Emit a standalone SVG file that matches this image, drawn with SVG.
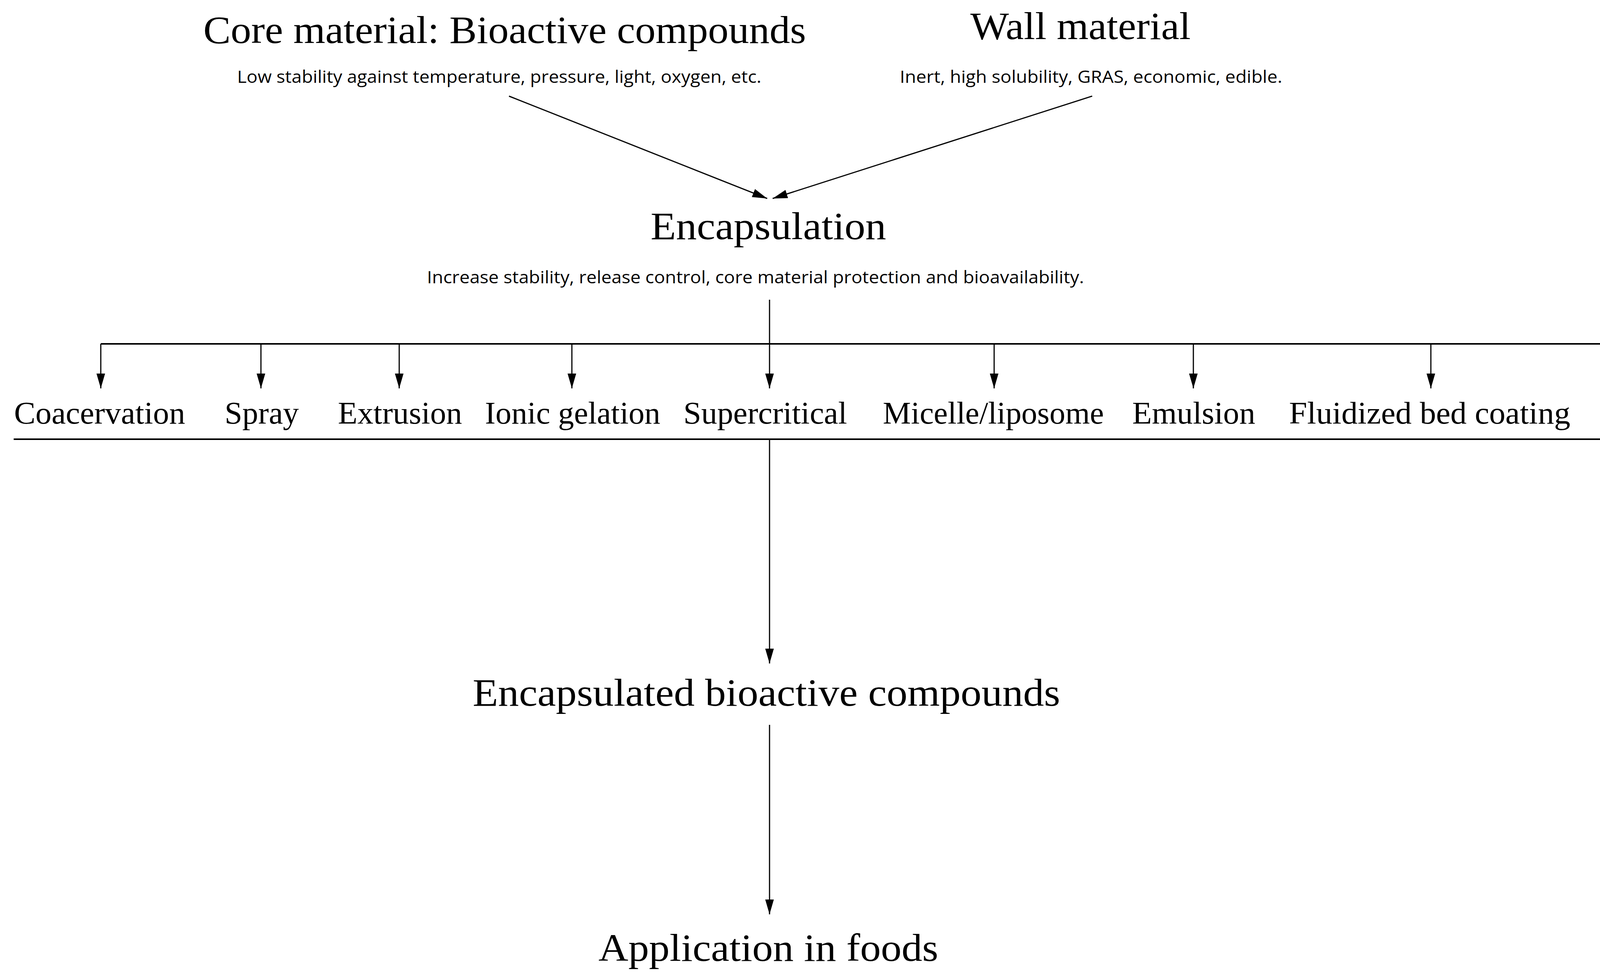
<svg xmlns="http://www.w3.org/2000/svg" width="4352" height="2508" viewBox="0 0 4352 2508">
<style>
.h{font-family:"Liberation Serif","DejaVu Serif",serif;font-size:100px;fill:#000;text-anchor:middle}
.m{font-family:"Liberation Serif","DejaVu Serif",serif;font-size:80px;fill:#000;text-anchor:middle}
.s{font-family:"Open Sans","Liberation Sans",sans-serif;font-size:44px;fill:#000;text-anchor:middle}
.c{stroke:#000;stroke-width:3;fill:none}
</style>
<defs>
<marker id="b" markerUnits="userSpaceOnUse" markerWidth="40" markerHeight="24" refX="38" refY="11" orient="auto">
<path d="M0,0 L38,11 L0,22 Z" fill="#000"/>
</marker>
</defs>
<g id="core"><text class="h" x="1292" y="110" textLength="1543" lengthAdjust="spacingAndGlyphs">Core material: Bioactive compounds</text>
<text class="s" x="1278" y="212" textLength="1342" lengthAdjust="spacingAndGlyphs">Low stability against temperature, pressure, light, oxygen, etc.</text></g>
<g id="wall"><text class="h" x="2766" y="100" textLength="564" lengthAdjust="spacingAndGlyphs">Wall material</text>
<text class="s" x="2793" y="212" textLength="979" lengthAdjust="spacingAndGlyphs">Inert, high solubility, GRAS, economic, edible.</text></g>
<g id="encapsulation"><text class="h" x="1967" y="612" textLength="603" lengthAdjust="spacingAndGlyphs">Encapsulation</text>
<text class="s" x="1934" y="725" textLength="1682" lengthAdjust="spacingAndGlyphs">Increase stability, release control, core material protection and bioavailability.</text></g>
<g id="methods">
<text class="m" x="255" y="1084" textLength="438" lengthAdjust="spacingAndGlyphs">Coacervation</text>
<text class="m" x="670" y="1084" textLength="190" lengthAdjust="spacingAndGlyphs">Spray</text>
<text class="m" x="1024" y="1084" textLength="318" lengthAdjust="spacingAndGlyphs">Extrusion</text>
<text class="m" x="1466" y="1084" textLength="449" lengthAdjust="spacingAndGlyphs">Ionic gelation</text>
<text class="m" x="1959" y="1084" textLength="419" lengthAdjust="spacingAndGlyphs">Supercritical</text>
<text class="m" x="2543" y="1084" textLength="566" lengthAdjust="spacingAndGlyphs">Micelle/liposome</text>
<text class="m" x="3056" y="1084" textLength="315" lengthAdjust="spacingAndGlyphs">Emulsion</text>
<text class="m" x="3660" y="1084" textLength="720" lengthAdjust="spacingAndGlyphs">Fluidized bed coating</text>
<text class="m" x="4214" y="1084" textLength="226" lengthAdjust="spacingAndGlyphs">Others</text>
</g>
<g id="encapsulated"><text class="h" x="1962" y="1806" textLength="1504" lengthAdjust="spacingAndGlyphs">Encapsulated bioactive compounds</text></g>
<g id="application"><text class="h" x="1967" y="2459" textLength="870" lengthAdjust="spacingAndGlyphs">Application in foods</text></g>
<g id="connectors">
<line class="c" x1="1303" y1="246" x2="1964" y2="508" marker-end="url(#b)"/>
<line class="c" x1="2796" y1="246" x2="1978" y2="508" marker-end="url(#b)"/>
<line class="c" x1="1970" y1="767" x2="1970" y2="880"/>
<line x1="258" y1="880" x2="4218" y2="880" stroke="#000" stroke-width="4"/>
<g marker-end="url(#b)">
<line class="c" x1="258" y1="880" x2="258" y2="994"/>
<line class="c" x1="668" y1="880" x2="668" y2="994"/>
<line class="c" x1="1022" y1="880" x2="1022" y2="994"/>
<line class="c" x1="1464" y1="880" x2="1464" y2="994"/>
<line class="c" x1="1970" y1="880" x2="1970" y2="994"/>
<line class="c" x1="2545" y1="880" x2="2545" y2="994"/>
<line class="c" x1="3055" y1="880" x2="3055" y2="994"/>
<line class="c" x1="3663" y1="880" x2="3663" y2="994"/>
<line class="c" x1="4218" y1="880" x2="4218" y2="994"/>
<line class="c" x1="1970" y1="1124" x2="1970" y2="1698"/>
<line class="c" x1="1970" y1="1855" x2="1970" y2="2340"/>
</g>
<line x1="35" y1="1124" x2="4330" y2="1124" stroke="#000" stroke-width="4"/>
</g>
</svg>
